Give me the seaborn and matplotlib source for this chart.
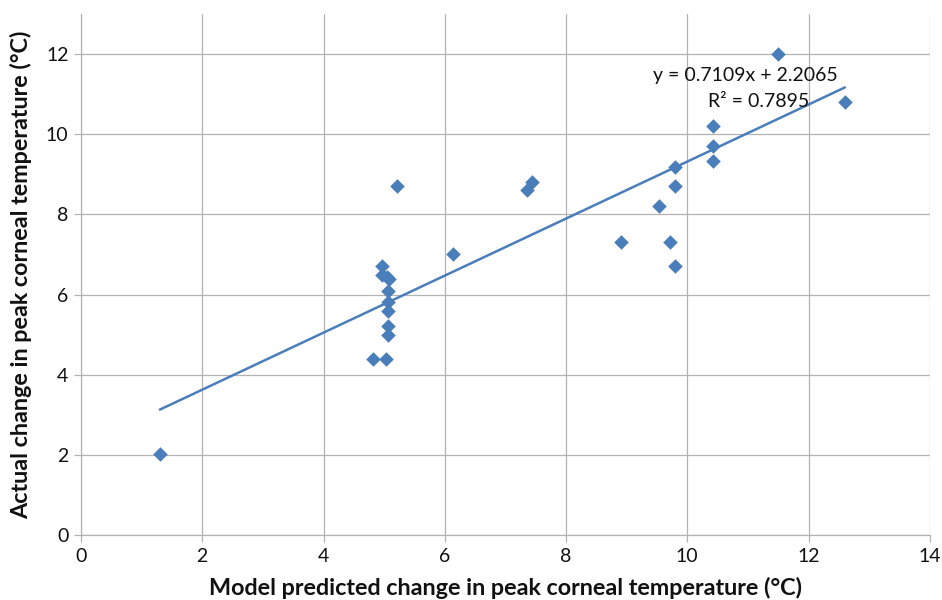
import numpy as np
import pandas as pd
import matplotlib
matplotlib.use("Agg")
import matplotlib.pyplot as plt
import seaborn as sns

# Data
predicted = [1.30, 4.82, 5.03, 5.21, 4.97, 4.97, 5.04, 5.08, 5.06, 5.06, 5.06, 5.06, 5.06, 6.14,
             7.35, 7.44, 8.91, 9.53, 9.71, 9.79, 9.79, 9.79, 10.42, 10.42, 10.42, 11.50, 12.60]
actual = [2.02, 4.40, 4.40, 8.70, 6.70, 6.50, 6.45, 6.38, 6.10, 5.82, 5.60, 5.21, 5.00, 7.00,
          8.60, 8.80, 7.30, 8.21, 7.30, 9.19, 8.70, 6.70, 10.20, 9.71, 9.32, 12.00, 10.80]

SLOPE = 0.7109
INTERCEPT = 2.2065
R2 = 0.7895

x_ticks = [0, 2, 4, 6, 8, 10, 12, 14]
y_ticks = [0, 2, 4, 6, 8, 10, 12]
x_label = "Model predicted change in peak corneal temperature (°C)"
y_label = "Actual change in peak corneal temperature (°C)"

df = pd.DataFrame({"predicted": predicted, "actual": actual})

sns.set_style("white")
plt.rcParams["font.family"] = ["Lato", "DejaVu Sans"]

fig = plt.figure(figsize=(9.42, 6.0), dpi=100)
ax = fig.add_axes([0.086, 0.108, 0.901, 0.869])

blue = "#4A7EBB"
grid_c = "#B3B3B3"

ax.set_axisbelow(True)
ax.grid(True, color=grid_c, linewidth=0.9)

sns.scatterplot(data=df, x="predicted", y="actual", marker="D", s=55, color=blue,
                edgecolor=blue, linewidth=0, ax=ax, zorder=3)

xl = np.array([min(predicted), max(predicted)])
ax.plot(xl, SLOPE * xl + INTERCEPT, color=blue, linewidth=1.8, zorder=2)

ax.set_xlim(0, 14)
ax.set_ylim(0, 13)
ax.set_xticks(x_ticks)
ax.set_yticks(y_ticks)
ax.tick_params(axis="both", labelsize=14, color=grid_c, length=5, width=0.9,
               direction="out", bottom=True, left=True, labelcolor="#111111", pad=4)

for s in ["top", "right"]:
    ax.spines[s].set_visible(False)
for s in ["left", "bottom"]:
    ax.spines[s].set_color(grid_c)
    ax.spines[s].set_linewidth(0.9)

ax.set_xlabel(x_label, fontsize=16.8, fontweight="bold", labelpad=9, color="#111111")
ax.set_ylabel(y_label, fontsize=16.8, fontweight="bold", labelpad=10, color="#111111")

ax.text(10.96, 11.45, f"y = {SLOPE}x + {INTERCEPT}", fontsize=14, ha="center", va="center", color="#111111")
ax.text(11.18, 10.82, f"R² = {R2}", fontsize=14, ha="center", va="center", color="#111111")

fig.savefig("out.png", dpi=100)
